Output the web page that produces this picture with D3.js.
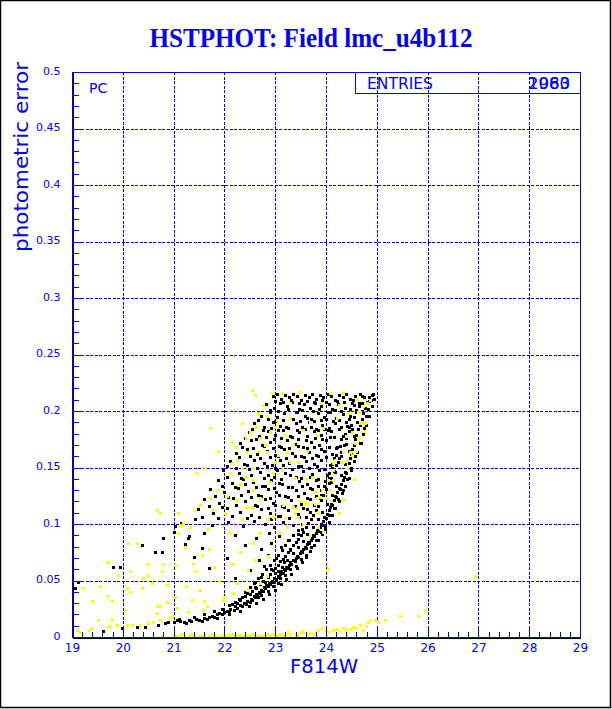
<!DOCTYPE html>
<html>
<head>
<meta charset="utf-8">
<script src="https://d3js.org/d3.v7.min.js"></script>
<style>
  body { margin: 0; background: #fff; }
  svg { display: block; }
</style>
</head>
<body>
<div id="chart"></div>
<script>
// ---- data: [F814W magnitude, photometric error] ----
const blackSequence = [
  [20.44,.009],[20.7,.011],[20.83,.012],[20.89,.013],[21.0,.013],[21.07,.015],[21.12,.014],[21.2,.013],[21.3,.015],[21.35,.014],
  [21.45,.016],[21.5,.015],[21.6,.017],[21.65,.016],[21.7,.018],[21.75,.019],[21.8,.018],[21.85,.020],[21.9,.021],[21.95,.020],
  [22.0,.022],[22.05,.023],[22.1,.022],[22.12,.025],[22.18,.024],[22.2,.027],[22.25,.026],[22.3,.028],[22.35,.027],[22.38,.030],
  [22.42,.029],[22.45,.032],[22.5,.031],[22.52,.034],[22.55,.033],[22.58,.036],[22.6,.035],[22.62,.038],[22.65,.037],[22.68,.040],
  [22.7,.039],[22.72,.042],[22.75,.041],[22.78,.044],[22.8,.043],[22.82,.046],[22.85,.045],[22.88,.048],[22.9,.047],[22.93,.050],
  [22.96,.049],[22.98,.052],[23.02,.051],[23.05,.054],[23.08,.053],[23.1,.056],[23.12,.058],[23.15,.057],[23.18,.060],[23.2,.059],
  [23.22,.062],[23.25,.061],[23.28,.064],[23.3,.066],[23.32,.065],[23.35,.068],[23.38,.067],[23.4,.070],[23.42,.072],[23.45,.071],
  [23.48,.074],[23.5,.076],[23.52,.075],[23.55,.078],[23.58,.080],[23.6,.079],[23.62,.082],[23.65,.084],[23.67,.083],[23.7,.086],
  [23.72,.088],[23.75,.090],[23.77,.089],[23.8,.092],[23.82,.095],[23.85,.094],[23.88,.097],[23.9,.100],[23.92,.099],[23.95,.103],
  [23.97,.106],[24.0,.105],[24.02,.109],[24.05,.112],[24.08,.115],[24.1,.118],[24.12,.117],[24.15,.121],[24.18,.125],[24.2,.124],
  [24.22,.128],[24.25,.132],[24.27,.131],[24.3,.135],[24.33,.139],[24.35,.142],[24.38,.146],[24.4,.145],[24.42,.150],[24.45,.154],
  [24.47,.158],[24.5,.162],[24.52,.166],[24.55,.170],[24.58,.175],[24.6,.179],[24.63,.184],[24.66,.188],[24.7,.193],[24.73,.198],
  [24.77,.203],[24.8,.208],[24.85,.212],
  [21.1,.016],[21.4,.018],[21.6,.020],[21.8,.023],[21.95,.025],[22.1,.028],[22.2,.031],[22.3,.033],[22.4,.036],[22.45,.039],
  [22.55,.041],[22.6,.044],[22.7,.047],[22.75,.050],[22.85,.053],[22.9,.056],[22.95,.059],[23.0,.061],[23.05,.064],[23.1,.067],
  [23.15,.069],[23.2,.072],[23.25,.075],[23.3,.078],[23.35,.081],[23.4,.084],[23.45,.087],[23.5,.090],[23.55,.093],[23.6,.097],
  [23.65,.101],[23.7,.104],[23.75,.108],[23.8,.112],[23.85,.116],[23.9,.121],[23.95,.126],[24.0,.131],[24.05,.136],[24.1,.141],
  [24.15,.147],[24.2,.152],[24.25,.158],[24.3,.164],[24.35,.170],[24.4,.176],[24.45,.182],[24.5,.188],[24.55,.195],[24.6,.201],
  [24.65,.207],[24.7,.213],
  [22.25,.030],[22.35,.035],[22.5,.038],[22.62,.043],[22.66,.035],[22.72,.037],[22.8,.049],[22.86,.041],[22.95,.045],[23.0,.057],
  [23.05,.048],[23.1,.052],[23.14,.062],[23.2,.055],[23.24,.068],[23.3,.060],[23.36,.074],[23.4,.063],[23.44,.080],[23.5,.069],
  [23.54,.085],[23.6,.073],[23.63,.091],[23.7,.080],[23.74,.097],[23.8,.086],[23.84,.104],[23.9,.093],[23.93,.111],[23.98,.098],
  [24.02,.118],[24.06,.108],[24.12,.126],[24.16,.114],[24.2,.134],[24.24,.122],[24.3,.143],[24.34,.130],[24.38,.153],[24.42,.140],
  [24.46,.165],[24.5,.150],[24.55,.178],[24.58,.160],[24.62,.190],[24.66,.172],[24.7,.200],[24.74,.185],[24.78,.196],[24.82,.202],
  [24.88,.210],[24.9,.214],
  [22.15,.029],[22.28,.034],[22.4,.040],[22.5,.044],[22.58,.048],[22.66,.052],[22.74,.056],[22.82,.060],[22.9,.064],[22.98,.068],
  [23.06,.073],[23.13,.077],[23.2,.081],[23.28,.086],[23.36,.090],[23.44,.095],[23.52,.100],[23.6,.106],[23.68,.111],[23.76,.117],
  [23.84,.123],[23.9,.130],[23.98,.138],[24.05,.145],[24.12,.153],[24.2,.161],[24.27,.169],[24.34,.178],[24.42,.187],[24.48,.196],
  [24.55,.205]
];

const blackEdge = [
  [21.25,.012],[21.55,.014],[21.85,.017],[22.1,.020],[22.3,.023],[22.48,.027],[22.62,.030],[22.76,.034],[22.88,.038],[23.0,.042],
  [23.12,.047],[23.22,.051],[23.32,.056],[23.42,.061],[23.52,.066],[23.6,.071],[23.68,.076],[23.76,.081],[23.84,.086],[23.92,.091],
  [23.98,.096],[24.06,.102],[24.12,.108],[24.18,.114],[24.25,.120],[24.32,.127],[24.38,.134],[24.45,.141],[24.5,.148],[24.56,.156],
  [24.62,.164],[24.68,.172],[24.73,.180],[24.78,.188],[24.84,.196],[24.9,.204],[24.95,.211]
];

const blackCloud = [
  [22.95,.213],[23.04,.215],[23.12,.211],[23.2,.214],[23.27,.212],[23.35,.215],[23.43,.213],[23.5,.210],[23.58,.214],[23.66,.212],
  [23.73,.215],[23.8,.211],[23.88,.214],[23.95,.212],[24.03,.215],[24.1,.213],[24.18,.210],[24.26,.214],[24.33,.212],[24.4,.215],
  [24.48,.211],[24.57,.213],[24.66,.215],[24.75,.212],[24.93,.215],
  [22.82,.206],[22.98,.203],[23.1,.207],[23.23,.204],[23.33,.208],[23.46,.202],[23.56,.206],[23.68,.203],[23.78,.207],[23.9,.204],
  [24.0,.208],[24.12,.202],[24.24,.206],[24.38,.203],[24.52,.207],[24.64,.204],
  [22.72,.196],[22.9,.199],[23.03,.195],[23.18,.198],[23.3,.194],[23.42,.199],[23.58,.196],[23.7,.193],[23.84,.198],[23.96,.195],
  [24.08,.199],[24.2,.194],[24.34,.197],[24.46,.193],
  [22.58,.189],[22.78,.186],[22.95,.190],[23.1,.187],[23.26,.185],[23.4,.189],[23.53,.186],[23.66,.190],[23.8,.184],[23.93,.188],
  [24.06,.185],[24.18,.189],[24.3,.186],[24.52,.184],
  [22.48,.181],[22.68,.178],[22.86,.182],[23.0,.179],[23.16,.183],[23.33,.177],[23.47,.181],[23.62,.178],[23.76,.182],[23.9,.179],
  [24.03,.183],[24.16,.177],[24.38,.180],
  [22.3,.172],[22.53,.174],[22.74,.170],[22.9,.173],[23.07,.169],[23.24,.174],[23.38,.171],[23.55,.168],[23.7,.173],[23.86,.170],
  [24.0,.174],[24.22,.168],[24.4,.171],
  [22.22,.163],[22.44,.166],[22.64,.162],[22.84,.165],[23.0,.161],[23.17,.166],[23.33,.163],[23.5,.160],[23.67,.164],[23.8,.161],
  [23.96,.165],[24.12,.162],[24.3,.160],
  [22.12,.156],[22.38,.153],[22.58,.157],[22.77,.154],[22.94,.152],[23.1,.157],[23.27,.154],[23.44,.151],[23.6,.156],[23.77,.153],
  [23.9,.157],[24.07,.152],[24.24,.155],
  [21.98,.148],[22.28,.145],[22.48,.149],[22.7,.146],[22.86,.143],[23.04,.148],[23.2,.145],[23.4,.142],[23.55,.147],[23.72,.144],
  [23.87,.148],[24.02,.143],[24.17,.146],
  [21.88,.139],[22.14,.136],[22.36,.140],[22.56,.137],[22.74,.134],[22.92,.139],[23.08,.136],[23.26,.133],[23.46,.138],[23.62,.135],
  [23.8,.139],[23.96,.134],[24.1,.137],
  [21.72,.131],[22.0,.128],[22.26,.132],[22.46,.129],[22.66,.126],[22.86,.131],[23.02,.128],[23.2,.125],[23.4,.130],[23.56,.127],
  [23.73,.131],[23.9,.126],
  [21.6,.122],[21.9,.119],[22.16,.123],[22.4,.120],[22.6,.117],[22.8,.122],[22.96,.119],[23.13,.116],[23.32,.121],[23.5,.118],
  [23.68,.122],
  [21.48,.113],[21.78,.110],[22.06,.114],[22.3,.111],[22.52,.108],[22.72,.113],[22.9,.110],[23.06,.107],[23.26,.112],[23.45,.109],
  [23.62,.113],
  [21.15,.101],[21.42,.104],[21.75,.099],[22.08,.102],[22.36,.098],[22.58,.103],[22.8,.100],[22.98,.097],[23.16,.102],[23.35,.099],
  [23.52,.096],
  [21.0,.093],[21.3,.089],[21.6,.092],[22.2,.090],[22.62,.088],[22.88,.092],[23.08,.089],[23.26,.086],[23.44,.091],
  [20.8,.088],[21.22,.082],[21.55,.079],[22.4,.081],[22.72,.078],[22.92,.083],[23.12,.080],[23.3,.077],
  [20.63,.075],[20.77,.075],[21.4,.071],[22.05,.070],[22.68,.068],[22.85,.073],[23.02,.070],[23.18,.066],
  [21.7,.061],[22.5,.059],[22.78,.063],[22.92,.060],[23.06,.058],
  [22.2,.052],[22.6,.049],[22.72,.053]
];

const blackCloudFill = [
  [23.0,.209],[23.16,.208],[23.31,.210],[23.47,.207],[23.62,.209],[23.77,.208],[23.92,.210],[24.06,.206],[24.22,.209],[24.36,.208],
  [24.53,.210],[24.7,.207],[24.85,.209],
  [22.9,.201],[23.06,.200],[23.26,.202],[23.4,.199],[23.52,.201],[23.74,.200],[23.86,.202],[24.04,.199],[24.17,.201],[24.3,.200],
  [24.47,.202],[24.6,.199],
  [22.66,.192],[22.85,.193],[23.0,.191],[23.15,.192],[23.35,.193],[23.48,.191],[23.63,.194],[23.77,.191],[23.9,.192],[24.0,.193],
  [24.13,.191],[24.26,.192],[24.4,.190],
  [22.55,.184],[22.75,.183],[22.92,.185],[23.05,.183],[23.22,.186],[23.42,.183],[23.58,.184],[23.7,.186],[23.85,.183],[23.97,.184],
  [24.1,.182],[24.25,.184],[24.45,.186],
  [22.4,.176],[22.62,.175],[22.82,.177],[22.97,.175],[23.12,.176],[23.3,.178],[23.44,.175],[23.6,.174],[23.78,.176],[23.93,.175],
  [24.08,.177],[24.3,.175],
  [22.35,.168],[22.56,.167],[22.78,.169],[22.95,.167],[23.12,.168],[23.28,.167],[23.45,.169],[23.62,.167],[23.76,.168],[23.9,.166],
  [24.05,.168],[24.2,.167],
  [22.28,.159],[22.5,.160],[22.7,.158],[22.9,.159],[23.05,.160],[23.22,.158],[23.38,.160],[23.56,.159],[23.72,.158],[23.85,.160],
  [24.0,.159],[24.16,.158],
  [22.05,.151],[22.22,.150],[22.45,.152],[22.65,.150],[22.83,.151],[23.0,.150],[23.16,.152],[23.34,.149],[23.5,.151],[23.66,.150],
  [23.82,.151],[23.96,.149],[24.12,.150],
  [22.05,.142],[22.32,.141],[22.52,.143],[22.78,.141],[22.97,.142],[23.12,.140],[23.3,.143],[23.5,.141],[23.68,.142],[23.84,.140],
  [24.05,.141],
  [21.95,.134],[22.2,.133],[22.4,.135],[22.62,.133],[22.8,.134],[22.98,.132],[23.14,.135],[23.34,.133],[23.52,.134],[23.68,.132],
  [23.85,.134],
  [21.82,.125],[22.08,.124],[22.32,.126],[22.52,.124],[22.72,.125],[22.9,.123],[23.08,.126],[23.26,.124],[23.45,.125],[23.62,.123],
  [23.8,.125],
  [21.7,.116],[21.95,.115],[22.22,.117],[22.45,.115],[22.65,.116],[22.85,.114],[23.0,.117],[23.18,.115],[23.38,.116],[23.55,.114],
  [21.55,.106],[21.88,.105],[22.15,.107],[22.45,.105],[22.68,.106],[22.92,.104],[23.1,.107],[23.28,.105],[23.46,.106]
];

const blackStray = [
  [19.06,.043],[19.12,.049],[19.61,.005],[19.98,.008],[20.28,.009],[20.38,.081],[19.81,.062],[19.94,.062],[21.03,.098],[21.28,.088]
];

const yellowFloor = [
  [19.1,.006],[19.16,.004],[19.33,.006],[19.4,.008],[19.71,.009],[19.75,.010],[19.89,.011],[20.08,.011],[20.18,.011],[20.34,.011],
  [20.5,.012],[20.6,.013],[20.73,.015],[20.93,.018],[20.97,.019],[21.28,.022],[21.58,.024],[21.65,.027],[21.97,.033],[22.17,.039],
  [22.44,.042],[22.7,.048],[22.84,.054],
  [20.77,.000],[21.0,.002],[21.07,.001],[21.1,.001],[21.2,.002],[21.3,.001],[21.4,.002],[21.5,.001],[21.6,.002],[21.7,.001],
  [21.8,.002],[21.85,.001],[21.95,.002],[22.0,.001],[22.05,.002],[22.1,.001],[22.2,.002],[22.25,.001],[22.3,.002],[22.4,.001],
  [22.45,.002],[22.5,.001],[22.6,.002],[22.65,.001],[22.75,.002],[22.8,.001],[22.9,.002],[22.95,.003],[23.0,.002],[23.1,.003],
  [23.2,.002],[23.3,.003],[23.4,.003],[23.5,.004],[23.6,.003],[23.69,.0035],[23.8,.004],[23.92,.008],[24.0,.005],[24.14,.006],
  [24.27,.005],[24.34,.008],[24.47,.007],[24.53,.009],[24.67,.011],[24.73,.006],[24.83,.013],[24.87,.015],[24.97,.015],[25.02,.013],
  [25.16,.015],[25.46,.019],[25.81,.019],[25.95,.024],[26.94,.054],
  [21.15,.003],[21.35,.003],[21.55,.001],[21.75,.003],[22.15,.003],[22.35,.001],[22.55,.003],[22.7,.001],[22.85,.003],[23.05,.001],
  [23.15,.002],[23.25,.004],[23.45,.002],[23.55,.005],[23.75,.003],[23.85,.006],[24.05,.004],[24.2,.007],[24.4,.006],[24.6,.008],
  [24.78,.010]
];

const yellowScatter = [
  [19.22,.043],[19.55,.045],[19.4,.032],[19.69,.036],[19.79,.032],[19.79,.016],[19.51,.015],[20.04,.024],[20.08,.043],[20.14,.058],
  [19.71,.066],[19.9,.055],[20.1,.083],[20.28,.083],[20.4,.052],[20.5,.055],[20.5,.065],[20.57,.048],[20.67,.112],[20.73,.110],
  [20.77,.058],[20.8,.065],[20.87,.046],[20.67,.027],[20.67,.021],[20.87,.031],[21.03,.035],[21.03,.064],[21.07,.026],[21.09,.092],
  [21.12,.099],[21.22,.080],[21.38,.065],[21.36,.033],[21.52,.042],[21.56,.073],[21.68,.096],[21.9,.050],[22.0,.035],[22.1,.092],
  [22.17,.065],[22.3,.075],[22.46,.059],[22.35,.104],[22.54,.115],[22.56,.083],[22.7,.092],[22.84,.104],[22.96,.086],[23.35,.115],
  [23.39,.110],[23.49,.120],[23.1,.092],[23.55,.100],[24.02,.059],[23.78,.118],[20.14,.040],[20.37,.043],[20.73,.027],
  [22.55,.219],[22.6,.214],[22.94,.216],[23.13,.216],[23.49,.217],[24.08,.216],[24.33,.216],[24.61,.211],[24.81,.207],[24.86,.210],
  [22.66,.198],[22.84,.196],[23.03,.192],[23.29,.194],[23.69,.190],[24.22,.194],[24.63,.199],[24.77,.189],[22.35,.189],[21.72,.185],
  [22.15,.173],[22.5,.181],[22.7,.176],[22.9,.181],[23.19,.179],[23.55,.183],[23.83,.179],[24.51,.181],[24.67,.189],[22.44,.164],
  [22.66,.165],[22.84,.164],[23.05,.161],[23.23,.164],[23.45,.155],[24.33,.164],[24.6,.165],[24.51,.161],[22.24,.157],[21.87,.165],
  [22.15,.154],[22.35,.150],[22.56,.150],[22.84,.148],[22.96,.145],[23.13,.148],[23.39,.141],[23.72,.142],[24.33,.155],[24.41,.150],
  [24.14,.148],[21.62,.150],[21.46,.145],[22.4,.142],[22.56,.139],[22.9,.137],[22.11,.145],[21.87,.130],[21.72,.123],[21.78,.112],
  [21.52,.117],[21.42,.112],[21.32,.097],[21.18,.101],[21.09,.110],[22.01,.110],[22.24,.121],[22.44,.115],[22.56,.130],[22.7,.123],
  [23.15,.117],[23.43,.114],[23.63,.119],[23.83,.123],[23.92,.130],[24.04,.139],[24.14,.154],[22.96,.106],[23.23,.097],[23.45,.106],
  [23.85,.097],[23.94,.093],[23.1,.092],[23.69,.090],
  [24.67,.199],[24.71,.190],[24.65,.177],[24.57,.172],[24.47,.164],[24.41,.157],[24.3,.155],[24.18,.157],[24.12,.148],[24.14,.139],
  [24.08,.130],[24.02,.123],[23.88,.124],[23.78,.128],[23.59,.119],[23.85,.111],[24.04,.061],
  [22.2,.168],[22.42,.176],[22.62,.186],[22.8,.170],[23.0,.186],[23.36,.171],[23.62,.165],[23.95,.185],[24.25,.205],[24.45,.198],
  [24.72,.204],[24.75,.182],[24.55,.140],[24.35,.122],[24.25,.110],[22.3,.135],[22.05,.125],[21.95,.098],[21.7,.078],[21.45,.058],
  [21.25,.045],[21.6,.032],[21.8,.062],[22.25,.048],[22.6,.068],[22.85,.072],[23.2,.105],[23.6,.140],[23.3,.155],[23.0,.155],
  [22.75,.205],[23.3,.207],[23.9,.207],[24.4,.178]
];

const xMajor = [19, 20, 21, 22, 23, 24, 25, 26, 27, 28, 29];
const yMajor = [0, 0.05, 0.1, 0.15, 0.2, 0.25, 0.3, 0.35, 0.4, 0.45, 0.5];
const entries = ["2080", "1963"];

const width = 612;
const height = 709;
const plot = { left: 72, right: 580, top: 72, bottom: 637 };
const blue = "#0000ff";
const font = "'DejaVu Sans', 'Liberation Sans', sans-serif";

const svg = d3.select("#chart")
  .append("svg")
  .attr("width", width)
  .attr("height", height);

svg.append("rect")
  .attr("x", 0.5).attr("y", 0.5)
  .attr("width", width - 2).attr("height", height - 2)
  .attr("fill", "#fff").attr("stroke", "#000").attr("stroke-width", 1.5);

// Scales
const x = d3.scaleLinear().domain([19, 29]).range([plot.left, plot.right]);
const y = d3.scaleLinear().domain([0, 0.5]).range([plot.bottom, plot.top]);

// Grid
const grid = svg.append("g")
  .attr("stroke", blue)
  .attr("stroke-width", 1)
  .attr("stroke-dasharray", "3,1.5")
  .attr("shape-rendering", "crispEdges");

grid.selectAll("line.v")
  .data(xMajor.slice(1, -1))
  .enter().append("line")
  .attr("x1", d => Math.round(x(d)) + 0.5).attr("x2", d => Math.round(x(d)) + 0.5)
  .attr("y1", y(0.5)).attr("y2", y(0));

grid.selectAll("line.h")
  .data(yMajor.slice(1, -1))
  .enter().append("line")
  .attr("x1", x(19)).attr("x2", x(29))
  .attr("y1", d => Math.round(y(d)) + 0.5).attr("y2", d => Math.round(y(d)) + 0.5);

// Points
function drawPoints(pts, color) {
  svg.append("g")
    .attr("shape-rendering", "crispEdges")
    .selectAll("rect")
    .data(pts)
    .enter().append("rect")
    .attr("x", d => Math.round(x(d[0])) - 1)
    .attr("y", d => Math.round(y(d[1])) - 1)
    .attr("width", 3)
    .attr("height", 3)
    .attr("fill", color);
}
drawPoints(blackSequence, "#000");
drawPoints(blackEdge, "#000");
drawPoints(blackCloud, "#000");
drawPoints(blackCloudFill, "#000");
drawPoints(blackStray, "#000");
drawPoints(yellowFloor, "#ffff00");
drawPoints(yellowScatter, "#ffff00");

// Frame
svg.append("rect")
  .attr("x", plot.left + 0.5).attr("y", plot.top + 0.5)
  .attr("width", plot.right - plot.left).attr("height", plot.bottom - plot.top)
  .attr("fill", "none").attr("stroke", blue)
  .attr("shape-rendering", "crispEdges");

// Axes
svg.append("g")
  .attr("transform", `translate(0,${plot.bottom + 0.5})`)
  .call(d3.axisBottom(x).tickValues(xMajor).tickFormat(d3.format("d"))
    .tickSizeInner(-10).tickSizeOuter(0).tickPadding(6));

svg.append("g")
  .attr("transform", `translate(0,${plot.bottom + 0.5})`)
  .call(d3.axisBottom(x).ticks(50).tickFormat("").tickSizeInner(-6).tickSizeOuter(0));

const yAxis = svg.append("g")
  .attr("transform", `translate(${plot.left + 0.5},0)`)
  .call(d3.axisLeft(y).tickValues(yMajor).tickFormat(d => d === 0 ? "0" : d3.format("")(d))
    .tickSizeInner(-10).tickSizeOuter(0).tickPadding(12));

svg.append("g")
  .attr("transform", `translate(${plot.left + 0.5},0)`)
  .call(d3.axisLeft(y).ticks(50).tickFormat("").tickSizeInner(-6).tickSizeOuter(0));

svg.selectAll(".tick line").attr("stroke", blue).attr("shape-rendering", "crispEdges");
svg.selectAll(".domain").attr("stroke", "#000").attr("shape-rendering", "crispEdges");
svg.selectAll(".tick text").attr("fill", blue).style("font-family", font).style("font-size", "12px");
yAxis.selectAll(".tick text").style("font-size", "11px").attr("dy", "0.2em");

// Title and labels
svg.append("text")
  .attr("x", 311).attr("y", 47)
  .attr("text-anchor", "middle")
  .attr("textLength", 323).attr("lengthAdjust", "spacingAndGlyphs")
  .style("font-family", "'Liberation Serif', 'Times New Roman', serif")
  .style("font-weight", "bold").style("font-size", "28px")
  .attr("fill", blue)
  .text("HSTPHOT: Field lmc_u4b112");

svg.append("text")
  .attr("transform", "translate(28,157) rotate(-90)")
  .attr("text-anchor", "middle")
  .attr("textLength", 190).attr("lengthAdjust", "spacingAndGlyphs")
  .style("font-family", font).style("font-size", "20px")
  .attr("fill", blue)
  .text("photometric error");

svg.append("text")
  .attr("x", 324).attr("y", 673)
  .attr("text-anchor", "middle")
  .attr("textLength", 68).attr("lengthAdjust", "spacingAndGlyphs")
  .style("font-family", font).style("font-size", "20px")
  .attr("fill", blue)
  .text("F814W");

svg.append("text")
  .attr("x", 89).attr("y", 93)
  .style("font-family", font).style("font-size", "14px")
  .attr("fill", blue)
  .text("PC");

// Stats box
svg.append("rect")
  .attr("x", 355.5).attr("y", plot.top + 0.5)
  .attr("width", plot.right - 355).attr("height", 21)
  .attr("fill", "none").attr("stroke", blue)
  .attr("shape-rendering", "crispEdges");

svg.append("text")
  .attr("x", 367).attr("y", 89)
  .attr("textLength", 66).attr("lengthAdjust", "spacingAndGlyphs")
  .style("font-family", font).style("font-size", "15px")
  .attr("fill", blue)
  .text("ENTRIES");

svg.selectAll("text.entries")
  .data(entries)
  .enter().append("text")
  .attr("x", 570).attr("y", 89)
  .attr("text-anchor", "end")
  .attr("textLength", 42).attr("lengthAdjust", "spacingAndGlyphs")
  .style("font-family", font).style("font-size", "15px")
  .attr("fill", blue)
  .text(d => d);
</script>
</body>
</html>
